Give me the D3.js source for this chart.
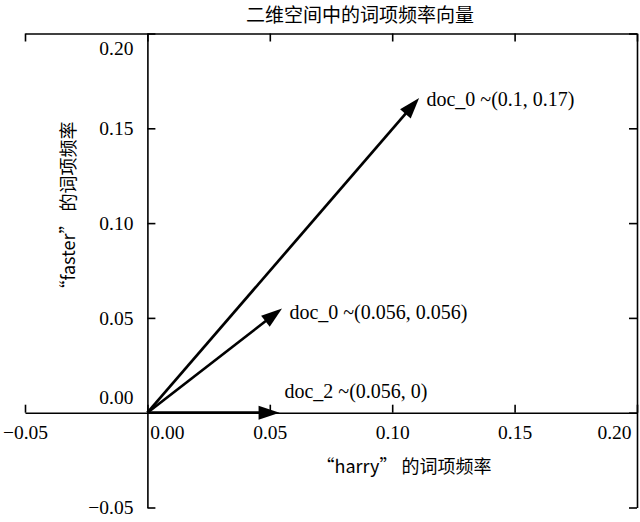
<!DOCTYPE html>
<html>
<head>
<meta charset="utf-8">
<script src="https://cdn.jsdelivr.net/npm/d3@7"></script>
<style>
  html, body { margin: 0; padding: 0; background: #fff; }
  svg { display: block; }
</style>
</head>
<body>
<svg id="chart" width="640" height="522"></svg>
<script>
// ---- data ----
const titleText = "二维空间中的词项频率向量";
const xLabelText = "“harry” 的词项频率";
const yLabelText = "“faster” 的词项频率";
const xTicks = [-0.05, 0.00, 0.05, 0.10, 0.15, 0.20];
const yTicks = [-0.05, 0.00, 0.05, 0.10, 0.15, 0.20];
const vecNames = ["doc_0 ~(0.1, 0.17)", "doc_0 ~(0.056, 0.056)", "doc_2 ~(0.056, 0)"];
const vecX = [0.111, 0.055, 0.054];
const vecY = [0.166, 0.055, 0.0];
const labelX = [0.114, 0.058, 0.056];
const labelY = [0.165, 0.053, 0.011];

// ---- layout ----
const svg = d3.select("#chart");
const x = d3.scaleLinear().domain([-0.05, 0.20]).range([25, 637]);
const y = d3.scaleLinear().domain([-0.05, 0.20]).range([507.5, 33.5]);
const fmt = d3.format(".2f");
const serif = "'Liberation Serif', 'Times New Roman', serif";
const sans = "'Noto Sans CJK SC', 'Noto Sans', sans-serif";
const tickLen = 8;

function styleAxis(g) {
  g.attr("font-size", null).attr("font-family", null);
  g.selectAll("path.domain").attr("stroke", "#000").attr("stroke-width", 1.6);
  g.selectAll(".tick line").attr("stroke", "#000").attr("stroke-width", 1.6);
  g.selectAll(".tick text").attr("fill", "#000").style("font-family", serif).style("font-size", "19.5px");
}

// bottom spine (at y = 0) with labels below
const gx = svg.append("g")
  .attr("transform", `translate(0,${y(0)})`)
  .call(d3.axisBottom(x).tickValues(xTicks).tickSizeInner(-tickLen).tickSizeOuter(0).tickPadding(12).tickFormat(fmt));
styleAxis(gx);
gx.selectAll(".tick text").attr("dx", d => d === 0 ? 19.5 : (d === 0.20 ? -23 : 0));

// left spine (at x = 0) with labels to the left
const gy = svg.append("g")
  .attr("transform", `translate(${x(0)},0)`)
  .call(d3.axisLeft(y).tickValues(yTicks).tickSizeInner(-tickLen).tickSizeOuter(0).tickPadding(14).tickFormat(fmt));
styleAxis(gy);
gy.selectAll(".tick text").attr("dy", d => d === 0 ? "-0.45em" : (d === 0.20 ? "1.07em" : "0.32em"));

// top spine
const gt = svg.append("g")
  .attr("transform", `translate(0,${y(0.20)})`)
  .call(d3.axisTop(x).tickValues(xTicks).tickSizeInner(-tickLen).tickSizeOuter(0).tickFormat(""));
styleAxis(gt);

// right spine
const gr = svg.append("g")
  .attr("transform", `translate(${x(0.20)},0)`)
  .call(d3.axisRight(y).tickValues(yTicks).tickSizeInner(-tickLen).tickSizeOuter(0).tickFormat(""));
styleAxis(gr);

// ---- arrows ----
const headLen = 21, headHalf = 7;
const vecs = vecNames.map((n, i) => ({ name: n, vx: vecX[i], vy: vecY[i], lx: labelX[i], ly: labelY[i] }));
const ga = svg.append("g");
vecs.forEach(v => {
  const x0 = x(0), y0 = y(0), x1 = x(v.vx), y1 = y(v.vy);
  const dx = x1 - x0, dy = y1 - y0, L = Math.hypot(dx, dy);
  const ux = dx / L, uy = dy / L;
  const bx = x1 - ux * headLen, by = y1 - uy * headLen;
  ga.append("line")
    .attr("x1", x0).attr("y1", y0).attr("x2", bx + ux * 2).attr("y2", by + uy * 2)
    .attr("stroke", "#000").attr("stroke-width", 2.7);
  const pts = [[x1, y1], [bx - uy * headHalf, by + ux * headHalf], [bx + uy * headHalf, by - ux * headHalf]];
  ga.append("polygon").attr("points", pts.map(p => p.join(",")).join(" ")).attr("fill", "#000");
  ga.append("text")
    .attr("x", x(v.lx)).attr("y", y(v.ly)).attr("dy", "0.32em")
    .style("font-family", serif).style("font-size", "20px").attr("fill", "#000")
    .text(v.name);
});

// ---- titles ----
svg.append("text").attr("x", 360).attr("y", 15).attr("dy", "0.35em").attr("text-anchor", "middle")
  .style("font-family", sans).style("font-size", "19px").attr("fill", "#000").text(titleText);
svg.append("text").attr("x", 404).attr("y", 467).attr("dy", "0.35em").attr("text-anchor", "middle")
  .style("font-family", sans).style("font-size", "18px").attr("fill", "#000").text(xLabelText);
svg.append("text").attr("transform", "translate(69,210) rotate(-90)").attr("dy", "0.35em").attr("text-anchor", "middle")
  .style("font-family", sans).style("font-size", "18px").attr("fill", "#000").text(yLabelText);
</script>
</body>
</html>
